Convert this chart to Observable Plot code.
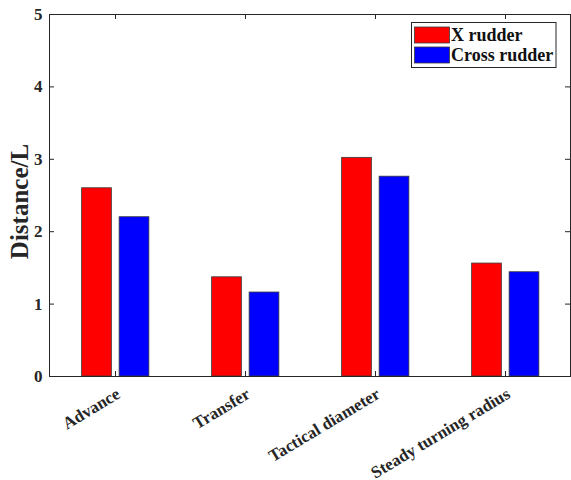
<!DOCTYPE html>
<html>
<head>
<meta charset="utf-8">
<script src="https://cdn.jsdelivr.net/npm/d3@7"></script>
<script src="https://cdn.jsdelivr.net/npm/@observablehq/plot@0.6"></script>
<style>
  html, body { margin: 0; padding: 0; background: #fff; }
  #chart svg { display: block; }
</style>
</head>
<body>
<div id="chart"></div>
<script>
const categories = ["Advance", "Transfer", "Tactical diameter", "Steady turning radius"];
const series = ["X rudder", "Cross rudder"];
const xRudder = [2.60, 1.37, 3.02, 1.56];
const crossRudder = [2.20, 1.16, 2.76, 1.44];
const yTicks = [0, 1, 2, 3, 4, 5];
const colors = ["#ff0000", "#0000ff"];

const data = [];
categories.forEach((c, i) => {
  data.push({category: c, series: series[0], value: xRudder[i]});
  data.push({category: c, series: series[1], value: crossRudder[i]});
});

const W = 571, H = 480;
const mL = 49, mR = 1, mT = 14, mB = 104;
const pw = W - mL - mR, ph = H - mT - mB;
const font = "'Liberation Serif', 'Times New Roman', serif";
const axisColor = "#262626";
const bw = pw / categories.length;

const plot = Plot.plot({
  width: W,
  height: H,
  marginLeft: mL,
  marginRight: mR,
  marginTop: mT,
  marginBottom: mB,
  style: {fontFamily: font, fontWeight: "bold", fontSize: "17px", color: "#262626", background: "#fff"},
  x: {domain: categories, padding: 0, label: null},
  y: {domain: [0, 5], label: null},
  color: {domain: series, range: colors},
  marks: [
    Plot.barY(data.filter(d => d.series === series[0]), {
      x: "category", y: "value", fill: "series",
      stroke: "#3a3a3a", strokeWidth: 0.8,
      insetLeft: bw / 2 - 33.5, insetRight: bw / 2 + 3.5
    }),
    Plot.barY(data.filter(d => d.series === series[1]), {
      x: "category", y: "value", fill: "series",
      stroke: "#3a3a3a", strokeWidth: 0.8,
      insetLeft: bw / 2 + 4, insetRight: bw / 2 - 34
    }),
    // inward ticks left & right
    Plot.tickY(yTicks, {y: d => d, stroke: axisColor, insetRight: pw - 5}),
    Plot.tickY(yTicks, {y: d => d, stroke: axisColor, insetLeft: pw - 5}),
    // inward ticks bottom & top
    Plot.tickX(categories, {x: d => d, stroke: axisColor, insetTop: ph - 5}),
    Plot.tickX(categories, {x: d => d, stroke: axisColor, insetBottom: ph - 5}),
    Plot.axisY({ticks: yTicks, tickFormat: d3.format("d"), tickSize: 0, tickPadding: 7, fontSize: 17, fontWeight: "bold", fill: "#262626", label: null}),
    Plot.axisX({tickSize: 0, tickPadding: 16, dx: 3, tickRotate: -31, fontSize: 17, fontWeight: "bold", fill: "#262626", label: null}),
    Plot.frame({stroke: axisColor, strokeWidth: 1}),
    Plot.text(["Distance/L"], {
      frameAnchor: "left", dx: -30, dy: 6, rotate: -90, text: d => d,
      fontSize: 25, fontWeight: "bold", fill: "#262626", textAnchor: "middle"
    })
  ]
});

// legend (inside the axes, top right)
const svg = d3.select(plot);
const lg = svg.append("g").attr("font-family", font).attr("font-weight", "bold")
  .attr("font-size", 18).attr("text-anchor", "start");
const lx = 411.5, ly = 22.5;
lg.append("rect").attr("x", lx).attr("y", ly).attr("width", 144.5).attr("height", 45)
  .attr("fill", "#fff").attr("stroke", axisColor).attr("stroke-width", 1);
series.forEach((s, i) => {
  lg.append("rect").attr("x", lx + 3).attr("y", ly + 4.5 + i * 20).attr("width", 35).attr("height", 16)
    .attr("fill", colors[i]).attr("stroke", "#3a3a3a").attr("stroke-width", 0.8);
  lg.append("text").attr("x", lx + 39.5).attr("y", ly + 18.5 + i * 20).attr("fill", "#111").text(s);
});

document.getElementById("chart").appendChild(plot);
</script>
</body>
</html>
